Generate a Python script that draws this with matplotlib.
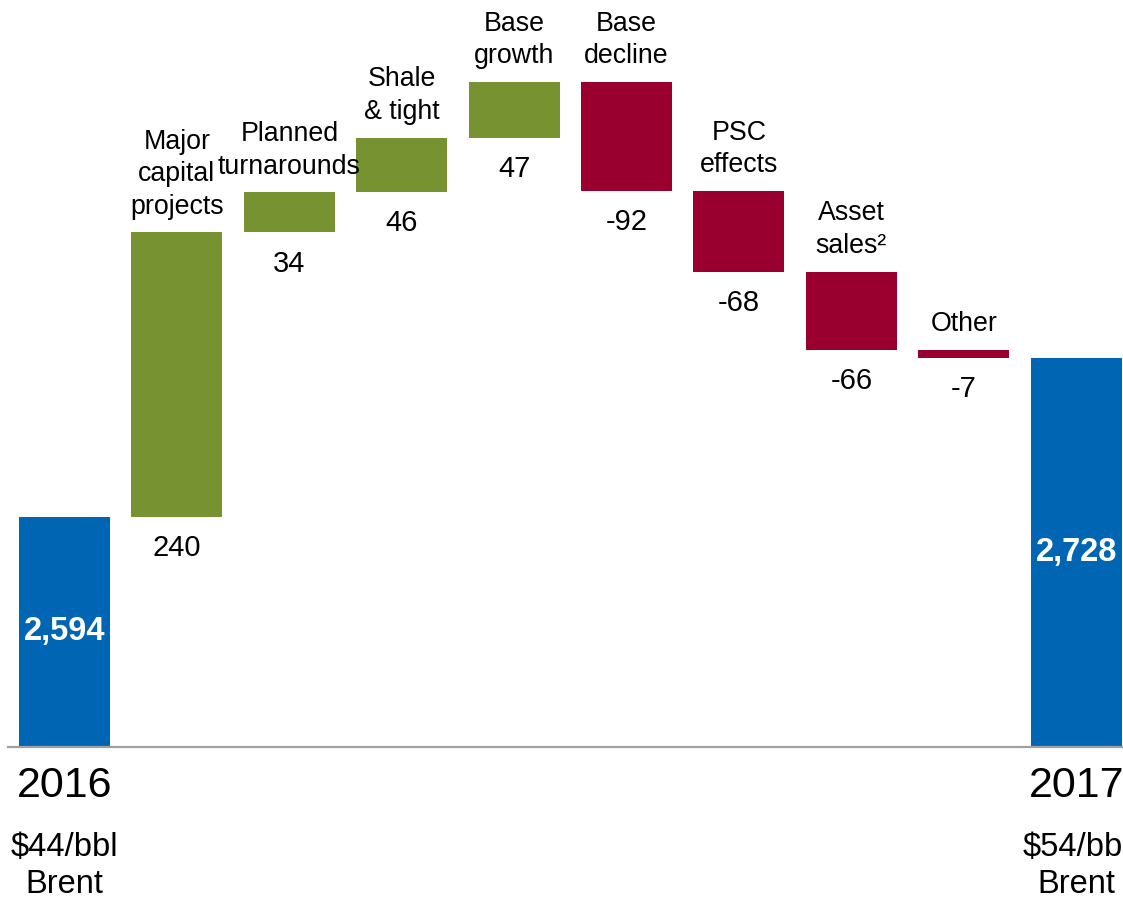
import numpy as np
import matplotlib.pyplot as plt

plt.rcParams['font.family'] = ['Liberation Sans', 'DejaVu Sans']

categories = ["", "Major\ncapital\nprojects", "Planned\nturnarounds", "Shale\n& tight",
              "Base\ngrowth", "Base\ndecline", "PSC\neffects", "Asset\nsales\u00b2",
              "Other", ""]
values = [2594, 240, 34, 46, 47, -92, -68, -66, -7, 2728]
kinds = ["total", "up", "up", "up", "up", "down", "down", "down", "down", "total"]
value_labels = ["2,594", "240", "34", "46", "47", "-92", "-68", "-66", "-7", "2,728"]
years = ["2016", "2017"]
prices = ["$44/bbl\nBrent", "$54/bbl\nBrent"]

colors = {"total": "#0066b3", "up": "#779231", "down": "#990030"}
y_floor = 2400

# waterfall bottoms
bottoms = []
heights = []
running = 0
for v, k in zip(values, kinds):
    if k == "total":
        bottoms.append(y_floor)
        heights.append(v - y_floor)
        running = v
    else:
        lo = min(running, running + v)
        bottoms.append(lo)
        heights.append(abs(v))
        running += v

fig = plt.figure(figsize=(11.23, 8.98), dpi=100)
ax = fig.add_axes([0, 151 / 898, 1, 747 / 898])
x = np.arange(len(values))
ax.bar(x, heights, bottom=bottoms, width=0.81,
       color=[colors[k] for k in kinds], zorder=2)

ax.set_xlim(-0.574, 9.417)
ax.set_ylim(y_floor, 3030)
ax.axis("off")
ax.axhline(y_floor, xmin=8 / 1123, xmax=1, color="#a0a0a0", lw=1.6,
           clip_on=False, zorder=3)

for i, (k, lab, vl) in enumerate(zip(kinds, categories, value_labels)):
    top = bottoms[i] + heights[i]
    bot = bottoms[i]
    if k == "total":
        ax.text(i, bot + heights[i] / 2, vl, ha="center", va="center",
                color="white", fontsize=23.5, fontweight="bold")
        continue
    ax.annotate(lab, (i, top), xytext=(0, 9), textcoords="offset points",
                ha="center", va="bottom", fontsize=19.3, linespacing=1.33)
    ax.annotate(vl, (i, bot), xytext=(0, -12.5), textcoords="offset points",
                ha="center", va="top", fontsize=21)

for i, yr, pr in zip([0, 9], years, prices):
    ax.annotate(yr, (i, y_floor), xytext=(0, -13.5), textcoords="offset points",
                ha="center", va="top", fontsize=31, annotation_clip=False)
    ax.annotate(pr, (i, y_floor), xytext=(0, -61), textcoords="offset points",
                ha="center", va="top", fontsize=23.5, linespacing=1.25,
                annotation_clip=False)

fig.savefig("out.png", dpi=100)
